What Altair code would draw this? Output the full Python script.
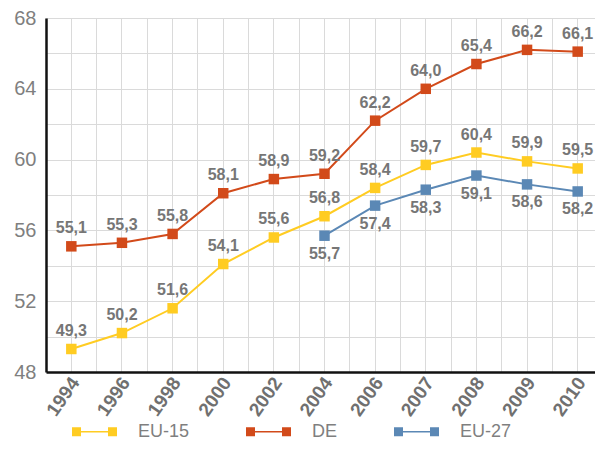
import altair as alt
import pandas as pd

years = ["1994", "1996", "1998", "2000", "2002", "2004", "2006", "2007", "2008", "2009", "2010"]
eu15 = [49.3, 50.2, 51.6, 54.1, 55.6, 56.8, 58.4, 59.7, 60.4, 59.9, 59.5]
de = [55.1, 55.3, 55.8, 58.1, 58.9, 59.2, 62.2, 64.0, 65.4, 66.2, 66.1]
eu27_years = ["2004", "2006", "2007", "2008", "2009", "2010"]
eu27 = [55.7, 57.4, 58.3, 59.1, 58.6, 58.2]
series = ["EU-15", "DE", "EU-27"]
colors = ["#FFCC22", "#D24A1A", "#5B88B5"]
y_ticks = [48, 50, 52, 54, 56, 58, 60, 62, 64, 66, 68]

rows = []
for yr, v in zip(years, eu15):
    rows.append({"year": yr, "value": v, "series": "EU-15"})
for yr, v in zip(years, de):
    rows.append({"year": yr, "value": v, "series": "DE"})
for yr, v in zip(eu27_years, eu27):
    rows.append({"year": yr, "value": v, "series": "EU-27"})
df = pd.DataFrame(rows)

FONT = "Liberation Sans"
GRID = "#dadada"

# plot area is cut at the right edge of the window, like the reference
xscale = alt.Scale(type="band", domain=years, paddingInner=0, paddingOuter=0, range=[0, 557])
yscale = alt.Scale(domain=[48, 68], nice=False, zero=False)

legend_path = ("M-1,-0.2H-0.6V0.2H-1Z M0.6,-0.2H1V0.2H0.6Z "
               "M-0.6,-0.03H0.6V0.03H-0.6Z")

legend = alt.Legend(
    title=None, orient="none", direction="horizontal", legendX=26, legendY=391,
    symbolType=legend_path, symbolSize=2025, symbolStrokeWidth=0,
    labelFont=FONT, labelFontSize=18, labelColor="#7f7f7f", labelOffset=21,
    columnPadding=56, padding=0,
)
color = alt.Color("series:N", scale=alt.Scale(domain=series, range=colors), legend=legend)

base = alt.Chart(df).transform_calculate(
    label="replace(format(datum.value, '.1f'), '.', ',')"
)

lines = base.mark_line(strokeWidth=2).encode(color=color)
points = base.mark_point(shape="square", filled=True, size=110, opacity=1).encode(color=color)
text_above = base.transform_filter("datum.series != 'EU-27'").mark_text(
    dy=-18, font=FONT, fontSize=16, fontWeight="bold", color="#767676"
).encode(text="label:N")
text_below = base.transform_filter("datum.series == 'EU-27'").mark_text(
    dy=18, font=FONT, fontSize=16, fontWeight="bold", color="#767676"
).encode(text="label:N")

main_x_axis = alt.Axis(
    title=None, grid=True, bandPosition=0.5, gridColor=GRID, ticks=False,
    domainColor="#111111", domainWidth=2.5,
    labelAngle=305, labelAlign="right", labelBaseline="middle", labelPadding=7,
    labelOffset=4,
    labelFont=FONT, labelFontSize=19, labelFontWeight="bold", labelColor="#707070",
)
y_axis = alt.Axis(
    title=None, values=y_ticks, labelExpr="datum.value % 4 == 0 ? datum.label : ''",
    grid=True, gridColor=GRID, ticks=False, domainColor="#111111", domainWidth=2.5,
    labelFont=FONT, labelFontSize=20, labelColor="#7f7f7f", labelPadding=10,
)

main = alt.layer(lines, points, text_above, text_below).encode(
    x=alt.X("year:O", scale=xscale, axis=main_x_axis),
    y=alt.Y("value:Q", scale=yscale, axis=y_axis),
)

grid_axis = alt.Axis(
    title=None, orient="top", grid=True, bandPosition=0, gridColor=GRID,
    labels=False, ticks=False, domain=False,
)
grid_layer = alt.Chart(df).mark_point(opacity=0).encode(
    x=alt.X("year:O", scale=xscale, axis=grid_axis)
)

chart = alt.layer(grid_layer, main).resolve_axis(x="independent").properties(
    width=549, height=354, autosize="none",
    padding={"left": 38, "top": 10, "right": 0, "bottom": 70},
).configure_view(stroke=None)

chart.save("out.html", embed_options={"renderer": "svg", "actions": False})
